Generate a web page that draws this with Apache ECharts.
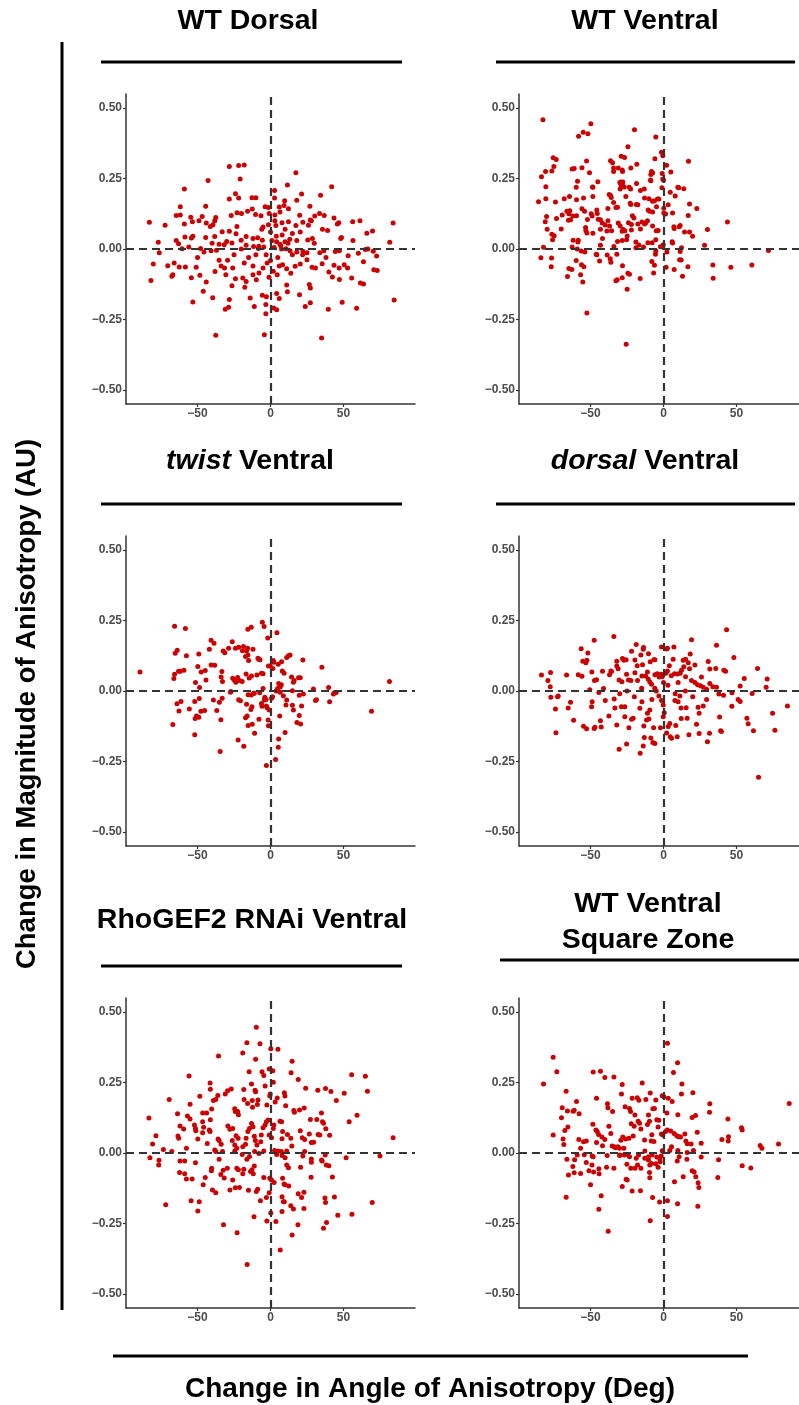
<!DOCTYPE html>
<html>
<head>
<meta charset="utf-8">
<script src="https://cdn.jsdelivr.net/npm/echarts@6/dist/echarts.min.js"></script>
<style>
  html, body { margin: 0; padding: 0; background: #fff; }
  #main { width: 799px; height: 1405px; }
</style>
</head>
<body>
<div id="main"></div>
<script>
// tick labels
const xTicks = [-50, 0, 50];
const yTicks = [-0.5, -0.25, 0, 0.25, 0.5];

// change in angle (deg), change in magnitude (AU)
const wtDorsal = [
  [-21.8,0.296],[-28.2,0.293],[-18,0.298],[-20.8,0.248],[17.4,0.271],[-42.8,0.243],[11.6,0.227],[41.9,0.221],
  [-59,0.213],[2.8,0.208],[-24,0.196],[21.3,0.195],[34.3,0.191],[-28.2,0.177],[-21.8,0.181],[-12.7,0.182],
  [-10,0.182],[2.8,0.181],[9.7,0.171],[18,0.173],[-44.4,0.152],[-61.8,0.150],[27,0.152],[-3.7,0.150],
  [-1.4,0.147],[6,0.149],[9.3,0.154],[12.3,0.143],[-12.5,0.142],[-26.9,0.119],[-22.9,0.129],[-19.9,0.126],
  [-15.7,0.134],[-10.2,0.122],[-6.5,0.118],[-0.9,0.126],[3,0.121],[6.5,0.131],[-64.6,0.119],[-61.8,0.121],
  [-54.6,0.113],[-46.8,0.115],[33.6,0.126],[30.3,0.117],[27.3,0.103],[43.5,0.110],[36.8,0.119],[-37.5,0.112],
  [-38.2,0.100],[-49,0.100],[-53.5,0.097],[-44,0.092],[-83,0.095],[-72.2,0.084],[-59,0.089],[-41.2,0.080],
  [-39.4,0.086],[46.8,0.093],[45.8,0.089],[56.3,0.097],[61.3,0.100],[84,0.092],[17.4,0.083],[22.2,0.095],
  [26,0.084],[28,0.100],[7.9,0.093],[12.3,0.097],[-5.1,0.078],[-1.4,0.086],[3.7,0.083],[35.6,0.070],
  [39.1,0.066],[20.4,0.060],[69.9,0.064],[66,0.056],[-33.1,0.061],[-28.2,0.063],[-23.6,0.054],[-44.4,0.041],
  [-38.2,0.044],[-53.2,0.045],[-54.2,0.039],[-58.6,0.043],[-64.6,0.030],[-76.9,0.024],[-76.2,-0.013],[81.7,0.024],
  [48.1,0.037],[48.6,0.041],[56.5,0.030],[28.7,0.037],[25.5,0.032],[13.2,0.035],[10,0.026],[4.2,0.026],
  [6.5,0.017],[-12,0.037],[-8.8,0.040],[-5.6,0.031],[-20.1,0.031],[-16.7,0.044],[-30,0.027],[-26.4,0.021],
  [-35.2,0.017],[-31.7,0.015],[-63,0.019],[-60.6,0.001],[-56,0.007],[-47.9,0.002],[-45.6,-0.011],[-40.7,-0.006],
  [-37,-0.004],[-16.7,0.013],[-11.6,0.009],[-8.3,0.002],[-4.6,0.007],[2.5,0.005],[7.6,0],[10.6,0.001],
  [13.4,-0.006],[18,-0.011],[22.2,-0.008],[25,-0.013],[33.8,-0.013],[36.6,-0.006],[44.4,-0.009],[47.2,-0.006],
  [60.2,-0.015],[65,-0.002],[66.7,0],[70.4,-0.008],[72.7,-0.025],[53.2,-0.024],[-80.3,-0.053],[-81.9,-0.112],
  [-70.4,-0.059],[-66,-0.050],[-62.5,-0.064],[-66.9,-0.091],[-67.6,-0.097],[-58.3,-0.064],[-54.2,-0.102],[-50.9,-0.065],
  [-48.4,-0.093],[-44,-0.117],[-38,-0.080],[-35.2,-0.040],[-33.8,-0.060],[-29.4,-0.040],[-31.5,-0.067],[-30.6,-0.091],
  [-25.9,-0.067],[-24,-0.106],[-26.4,-0.130],[-19,-0.103],[-16.7,-0.115],[-17.6,-0.136],[-12,-0.091],[-9.7,-0.109],
  [-7.9,-0.085],[-5.1,-0.067],[-2.3,-0.050],[0,-0.041],[1.9,-0.079],[4.6,-0.091],[8.3,-0.056],[11.1,-0.070],
  [13.9,-0.086],[16.9,-0.061],[20.4,-0.053],[25,-0.038],[28.5,-0.065],[30.8,-0.067],[35.4,-0.052],[40,-0.082],
  [43.5,-0.058],[47,-0.067],[50.5,-0.056],[52.8,-0.067],[55.6,-0.103],[61.6,-0.121],[63.7,-0.124],[70.8,-0.074],
  [73.1,-0.076],[63.7,-0.045],[42.4,-0.099],[47.2,-0.108],[26.6,-0.126],[27.3,-0.138],[11.1,-0.128],[11.6,-0.152],
  [19.9,-0.162],[4.2,-0.158],[6,-0.176],[-5.6,-0.164],[-2.8,-0.169],[-3.2,-0.197],[-13.9,-0.174],[-11.1,-0.204],
  [-28.2,-0.179],[-28.7,-0.207],[-31,-0.214],[-39.6,-0.173],[-46.1,-0.150],[-53.2,-0.188],[23.8,-0.204],[27.3,-0.191],
  [39.6,-0.214],[49.1,-0.189],[59,-0.210],[84.7,-0.181],[2.1,-0.209],[4.2,-0.216],[-3.2,-0.230],[-37.5,-0.306],
  [-4.2,-0.304],[35,-0.316],[-8,0.010],[-3,-0.020],[5,-0.030],[8,0.050],[12,0.020],[15,-0.020],
  [-15,-0.030],[-20,0.000],[0,0.060],[3,0.100],[-6,0.070],[10,0.070],[18,0.030],[22,-0.020],
  [-25,-0.020],[-12,-0.060],[-18,-0.050],[6,-0.060],[-1,-0.100],[1,0.030],[4,0.045],[7,0.012],
  [-10,-0.020],[15,0.055],[-23,0.080],[30,0.020],[38,-0.030],[-40,0.020],[-50,-0.030],[20,0.120]
];

const wtVentral = [
  [-82.6,0.459],[-49.8,0.444],[-55,0.414],[-51.8,0.409],[-58.2,0.400],[-19.9,0.423],[-5.3,0.397],[-24.4,0.363],
  [-1.4,0.343],[-0.5,0.331],[-75.6,0.324],[-73.5,0.318],[-29,0.329],[-26.7,0.325],[-5.9,0.320],[-52.7,0.312],
  [-36.3,0.313],[-34.9,0.306],[-18.3,0.301],[2.1,0.297],[17.1,0.311],[-75.1,0.293],[-76.5,0.277],[-80.8,0.275],
  [-62.6,0.284],[-61.2,0.286],[-55.9,0.288],[-50.7,0.271],[-34.2,0.287],[-34.2,0.275],[-31,0.287],[-28.3,0.280],
  [-28.1,0.275],[-22.4,0.287],[-8.2,0.275],[-7.5,0.270],[-8.7,0.264],[-0.9,0.268],[5,0.273],[-83.6,0.256],
  [-58.9,0.240],[-45,0.239],[-29.9,0.236],[-29.2,0.238],[-27.9,0.238],[-29.2,0.227],[-18.5,0.232],[-8.7,0.242],
  [-8.9,0.245],[-0.5,0.248],[0,0.244],[-80.6,0.221],[-59.8,0.219],[-48.4,0.219],[-48.6,0.220],[-28.1,0.225],
  [-26.9,0.220],[-23.5,0.219],[-22.6,0.213],[-29.7,0.213],[-15.8,0.208],[-13.2,0.213],[-1.1,0.217],[9.8,0.219],
  [10.5,0.217],[13.9,0.214],[-85.6,0.168],[-80.6,0.178],[-68,0.178],[-64.4,0.186],[-59.6,0.175],[-54.8,0.181],
  [-48.4,0.186],[-37.2,0.193],[-36.3,0.190],[-35.8,0.183],[-38.1,0.144],[-34.2,0.165],[-32.6,0.147],[-31.5,0.148],
  [-25.8,0.186],[-22.8,0.162],[-22.4,0.158],[-18.7,0.158],[-17.6,0.157],[-13,0.181],[-10,0.178],[-7.5,0.169],
  [-6.2,0.171],[-4.1,0.177],[-3.2,0.177],[-4.8,0.150],[4.6,0.201],[8,0.188],[3.2,0.157],[0.2,0.145],
  [17.8,0.160],[22.8,0.144],[16.9,0.119],[-74,0.167],[-73.3,0.108],[-80.1,0.115],[-81,0.097],[-79.7,0.070],
  [-69.4,0.121],[-66.2,0.134],[-64.8,0.125],[-64.2,0.136],[-63.7,0.104],[-62.1,0.117],[-59.6,0.118],[-65.1,0.102],
  [-70.1,0.071],[-55.9,0.143],[-54.1,0.134],[-49.5,0.125],[-48.9,0.117],[-45.7,0.138],[-45.4,0.126],[-44.7,0.106],
  [-52.1,0.105],[-53.4,0.076],[-53.2,0.066],[-52.5,0.057],[-48.4,0.056],[-43.2,0.104],[-42,0.092],[-40,0.085],
  [-43.2,0.070],[-41.8,0.037],[-38.1,0.100],[-37,0.082],[-38.8,0.064],[-35.6,0.065],[-31,0.092],[-29.7,0.082],
  [-27.6,0.069],[-28.3,0.063],[-26.5,0.065],[-24,0.093],[-22,0.087],[-22,0.067],[-21.3,0.118],[-20.3,0.110],
  [-17.6,0.089],[-15.8,0.071],[-14.8,0.096],[-13,0.089],[-12.1,0.093],[-11,0.100],[-10.5,0.138],[-9.6,0.134],
  [-7.5,0.131],[-7.5,0.082],[-5,0.065],[-3.7,0.066],[0.2,0.128],[1.4,0.124],[6.2,0.128],[7.1,0.079],
  [7.3,0.073],[10.7,0.079],[11.4,0.083],[14.4,0.060],[17.8,0.060],[19.9,0.045],[30.1,0.069],[43.8,0.096],
  [28.1,0.013],[-74.9,0.047],[-76,0.033],[-76.5,0.052],[-82.2,0.006],[-61.9,0.031],[-58.4,0.031],[-58.7,0.025],
  [-62.6,0.007],[-59.1,0],[-56.4,-0.007],[-53.9,-0.011],[-43.2,0.013],[-46.1,-0.019],[-38.6,-0.021],[-31.5,0.027],
  [-34,0.009],[-32,-0.019],[-36.1,-0.047],[-28.3,0.030],[-25.3,0.033],[-24.9,0.046],[-18.9,0.025],[-16.9,0.014],
  [-18.9,0.004],[-13.7,0.007],[-10.7,0.022],[-7.8,0.022],[-5.3,0.033],[-5.3,-0.007],[-2.1,0.008],[-0.2,0.015],
  [2.3,-0.011],[11.4,-0.009],[12.3,0.004],[5.9,0.026],[6.2,0.021],[-84,-0.031],[-76.7,-0.032],[-76.9,-0.063],
  [-59.8,-0.041],[-64.8,-0.069],[-62.8,-0.073],[-65.8,-0.098],[-56.2,-0.056],[-54.6,-0.063],[-56.8,-0.091],[-55.3,-0.117],
  [-45.7,-0.020],[-43.8,-0.043],[-36.5,-0.035],[-32.6,-0.113],[-31.7,-0.109],[-28.1,-0.059],[-28.3,-0.102],[-24.4,-0.086],
  [-23.3,-0.090],[-24.9,-0.143],[-16,-0.105],[-8,-0.044],[-6.8,-0.085],[-5.5,-0.019],[-6.2,-0.058],[1.8,-0.065],
  [7.3,-0.073],[11,-0.038],[12.1,-0.039],[13,-0.097],[16.7,-0.063],[33.8,-0.057],[34,-0.104],[46.1,-0.065],
  [60.5,-0.057],[71.9,-0.005],[-52.5,-0.227],[-25.6,-0.338]
];

const twistVentral = [
  [-89.4,0.067],[-65.7,0.230],[-58.3,0.222],[-65.3,0.134],[-63.9,0.145],[-63,0.070],[-61.8,0.070],[-66.2,0.044],
  [-65.7,0.059],[-59.3,0.074],[-57.6,0.125],[-49.1,0.131],[-41.9,0.148],[-40.7,0.180],[-38.7,0.169],[-40.7,0.092],
  [-38.2,0.091],[-49.8,0.087],[-47.5,0.067],[-44.7,0.073],[-44.2,0.039],[-51.4,0.030],[-48.6,0.012],[-32.4,0.142],
  [-31.3,0.136],[-28.7,0.152],[-26.2,0.175],[-24,0.152],[-21.8,0.155],[-33.3,0.069],[-33.8,0.050],[-32.9,0.034],
  [-19.2,0.143],[-18.5,0.158],[-16.4,0.143],[-15.5,0.219],[-15.7,0.152],[-13.2,0.226],[-12,0.148],[-17.1,0.122],
  [-15.5,0.128],[-15,0.108],[-8.6,0.116],[-7.9,0.112],[-7.2,0.111],[-5.6,0.244],[-4.4,0.229],[-1.9,0.188],
  [4.4,0.207],[-25.9,0.045],[-24.8,0.039],[-23.8,0.031],[-22.5,0.048],[-21.3,0.037],[-19.4,0.034],[-16.7,0.060],
  [-14.6,0.046],[-13,0.053],[-9.3,0.057],[-6.2,0.063],[-5.1,0.061],[-1.4,0.089],[-0.2,0.089],[1.9,0.108],
  [2.3,0.102],[1.6,0.080],[5.3,0.095],[7.6,0.104],[8.1,0.071],[9.3,0.063],[11.1,0.119],[12.3,0.125],
  [13.4,0.128],[14.4,0.050],[16.2,0.037],[19.2,0.047],[20.4,0.047],[22.2,0.110],[35.2,0.084],[29.4,0.007],
  [31.5,-0.031],[30.8,-0.034],[39.8,0.012],[40.5,-0.038],[43.1,-0.011],[43.8,-0.006],[45,-0.005],[81.5,0.034],
  [69.2,-0.072],[-66.9,-0.119],[-64.1,-0.045],[-62.7,-0.071],[-61.3,-0.037],[-55.6,-0.064],[-51.9,-0.037],[-51.6,-0.098],
  [-50.7,-0.089],[-49.1,-0.093],[-51.9,-0.155],[-48.8,-0.027],[-47.7,-0.072],[-45.1,-0.069],[-39.1,-0.032],[-36.8,-0.069],
  [-35,-0.040],[-33.1,-0.026],[-34,-0.102],[-34.5,-0.215],[-27.5,-0.004],[-27.1,-0.002],[-21.8,-0.031],[-20.6,-0.035],
  [-22.2,-0.174],[-18.3,-0.196],[-17.1,-0.095],[-16,-0.089],[-16.4,-0.047],[-15.3,-0.122],[-12.7,-0.056],[-13.4,-0.066],
  [-12.5,-0.118],[-10.9,-0.150],[-11.1,-0.008],[-7.9,-0.100],[-6.2,-0.044],[-5.8,-0.054],[-4.2,-0.032],[-2.8,-0.053],
  [-2.3,-0.059],[-1.6,-0.103],[-1.4,-0.123],[-0.9,-0.067],[0.7,-0.026],[1.4,-0.020],[-2.8,-0.264],[3.5,-0.243],
  [5.3,-0.200],[5.6,-0.170],[6.3,-0.089],[10,-0.147],[8.8,-0.017],[10.6,-0.050],[11.1,-0.032],[15,-0.051],
  [15.7,-0.067],[19.7,-0.087],[20.6,-0.117],[21.3,-0.053],[18.1,-0.112],[3.9,0],[6.5,-0.004],[7.4,0.022],
  [5.6,0.027],[6.7,0.014],[4.9,0.009],[15,0.001],[19.7,-0.015],[22.5,-0.011],[15.7,0.031],[-15.3,-0.013],
  [-13.2,-0.014],[-11.6,-0.008],[-7.4,-0.006],[-5.1,0.009],[-3.9,-0.022],[-3,-0.030]
];

const dorsalVentral = [
  [43.2,0.217],[-34,0.193],[19.2,0.182],[-47.5,0.180],[36.3,0.162],[-56.4,0.150],[-51.8,0.135],[-55.3,0.106],
  [-53.2,0.100],[-52.5,0.109],[-18.7,0.165],[-13.7,0.154],[-13.9,0.148],[-21.9,0.141],[-15.5,0.128],[-10.3,0.132],
  [-6.6,0.111],[-5.9,0.111],[-9.1,0.104],[-1.4,0.156],[2.1,0.149],[2.7,0.152],[7.1,0.156],[-28.1,0.115],
  [-27.2,0.109],[-25.6,0.111],[-32,0.106],[-32,0.089],[-31.1,0.079],[-19.6,0.110],[-14.4,0.093],[6.6,0.113],
  [13.5,0.109],[15.1,0.113],[16.9,0.100],[18.3,0.131],[21.5,0.092],[17.8,0.079],[30.6,0.105],[48.2,0.119],
  [-83.6,0.057],[-77.4,0.066],[-79.2,0.037],[-77.6,0.015],[-77.2,-0.022],[-72.1,-0.018],[-72.6,-0.020],[-66.4,0.057],
  [-58.4,0.058],[-55.9,0.052],[-49.1,0.067],[-47.3,0.037],[-45.9,0.040],[-41.8,0.070],[-35.6,0.069],[-36.1,0.071],
  [-37,0.058],[-41.1,0.009],[-44.3,-0.005],[-50.5,0.004],[-30.4,0.039],[-28.5,0.033],[-25.3,0.059],[-24,0.039],
  [-22.4,0.037],[-19.6,0.065],[-17.8,0.037],[-14.8,0.053],[-12.3,0.053],[-11,0.067],[-10.5,0.043],[-9.4,0.032],
  [-8.2,0.024],[-5.9,0.058],[-4.3,0.061],[-3,0.057],[-1.6,0.059],[-0.9,0.051],[1.6,0.063],[2.7,0.071],
  [5.3,0.054],[7.5,0.061],[9.6,0.060],[11.4,0.063],[12.3,0.074],[13.9,0.086],[15.1,0.051],[19.2,0.037],
  [21.5,0.030],[23.3,0.022],[25.3,0.019],[27.2,0.013],[29.5,0.006],[31.7,0.027],[33.8,0.015],[36.3,0.013],
  [31.7,0.078],[35.8,0.080],[41.3,0.074],[42.5,0.070],[52.5,0.018],[55.3,0.044],[70.3,0.013],[71,0.043],
  [64.4,0.080],[41.1,-0.015],[46.9,-0.006],[51.1,-0.030],[52.5,-0.037],[60.7,-0.009],[46.8,-0.054],[37.9,-0.011],
  [84.9,-0.053],[74.7,-0.079],[76.3,-0.139],[61.6,-0.141],[57.1,-0.097],[58,-0.116],[38.4,-0.092],[39.1,-0.141],
  [39.7,-0.144],[65.1,-0.306],[30.1,-0.180],[31.5,-0.150],[24.4,-0.151],[22.6,-0.118],[24.4,-0.079],[23.7,-0.058],
  [27.2,-0.053],[29.5,-0.030],[17.4,-0.155],[9.4,-0.162],[5.5,-0.168],[4.6,-0.162],[8.4,-0.122],[12.1,-0.098],
  [15.5,-0.059],[16.2,-0.097],[10,-0.038],[11.2,-0.018],[7.8,-0.034],[2.1,-0.149],[3.2,-0.126],[4.3,-0.115],
  [0.5,-0.077],[-0.2,-0.091],[-2.1,-0.130],[-0.2,-0.050],[-1.4,-0.034],[-3.2,-0.018],[-7.3,-0.183],[-5.9,-0.186],
  [-8.7,-0.167],[-13.2,-0.165],[-13.9,-0.195],[-16,-0.221],[-6.8,-0.130],[-11,-0.079],[-9.4,-0.067],[-11.6,-0.103],
  [-10,-0.099],[-13.5,-0.124],[-16.2,-0.061],[-14.8,-0.038],[-23.7,-0.130],[-25.3,-0.188],[-30.4,-0.207],[-21.9,-0.100],
  [-20.8,-0.097],[-26.5,-0.091],[-26.5,-0.056],[-28.8,-0.056],[-33.3,-0.060],[-32,-0.121],[-33.8,-0.028],[-37.4,-0.089],
  [-39.9,-0.034],[-43.2,-0.106],[-42.7,-0.128],[-48.9,-0.038],[-49.3,-0.056],[-47,-0.129],[-47.5,-0.133],[-52.7,-0.134],
  [-54.8,-0.125],[-61.6,-0.104],[-65.3,-0.060],[-63.7,-0.040],[-73.7,-0.148],[-74,-0.064],[-5,0.000],[3,0.020],
  [8,-0.010],[-15,0.010],[-20,-0.020],[10,0.030],[15,0.000],[-8,-0.030],[0,0.030],[20,-0.020],
  [-25,0.000],[-3,0.050],[-18,0.090],[4,0.090],[-30,-0.010],[26,0.050],[-6,0.010],[12,-0.060]
];

const rhoGEF2Ventral = [
  [-9.7,0.446],[-16.2,0.391],[-7.2,0.388],[5.1,0.368],[0.2,0.370],[-19,0.355],[-35.6,0.344],[-10.2,0.333],
  [14.8,0.326],[-0.9,0.298],[1.6,0.292],[-14.6,0.288],[-5.8,0.288],[-4.6,0.275],[14.1,0.285],[-55.8,0.273],
  [55.6,0.278],[65,0.272],[19,0.261],[-41.4,0.248],[-41.2,0.226],[-26.9,0.227],[-29.4,0.221],[-13,0.245],
  [-10.6,0.223],[-10.2,0.217],[-3.7,0.238],[1.9,0.251],[24.1,0.230],[32.4,0.223],[37.7,0.229],[41.4,0.218],
  [50.5,0.212],[66.4,0.219],[-69.4,0.190],[-48.4,0.201],[-36.1,0.204],[-31,0.209],[-18.3,0.225],[-0.2,0.209],
  [-0.5,0.202],[9.5,0.214],[9.9,0.202],[4.6,0.195],[45.1,0.186],[-39.1,0.186],[-37.5,0.190],[-18.1,0.190],
  [-12.5,0.186],[-8.6,0.188],[-55.1,0.173],[-46.5,0.142],[-40.3,0.156],[-43.8,0.142],[-41.2,0.118],[-24.5,0.157],
  [-22,0.136],[-24.1,0.147],[-22.5,0.147],[-15.7,0.176],[-12.3,0.162],[-9,0.172],[-2.5,0.170],[3.2,0.181],
  [10.4,0.168],[16,0.151],[16.4,0.145],[19.9,0.153],[23.1,0.160],[34.9,0.142],[27.3,0.119],[31.7,0.119],
  [35.6,0.111],[36.3,0.106],[37.9,0.086],[59.3,0.134],[53.9,0.111],[-83.3,0.124],[-78.5,0.061],[-80.8,0.032],
  [-73.4,0.012],[-67.6,0.005],[-82.6,-0.017],[-76.4,-0.026],[-76.6,-0.043],[-71.8,-0.184],[-63.7,0.139],[-62,0.096],
  [-63.4,0.060],[-62.9,0.052],[-59.5,0.085],[-57.6,0.017],[-56.9,0.131],[-55.1,0.121],[-52.1,0.099],[-51.4,0.087],
  [-49.8,0.050],[-51.2,0.079],[-46.5,0.072],[-46.5,0.111],[-45.8,0.091],[-41.9,0.082],[-43.3,0.034],[-41.4,0.076],
  [-35.9,0.050],[-35.2,0.044],[-38.2,0.011],[-37.5,0.005],[-33.8,0.031],[-32.9,0.005],[-29.2,0.096],[-27.8,0.084],
  [-25.9,0.087],[-26.2,0.044],[-23.6,0.061],[-22.2,0.052],[-24.5,0.028],[-23.1,0.017],[-19,0.022],[-17.1,0.031],
  [-16.7,0.052],[-15.5,0.076],[-14.4,0.087],[-13,0.105],[-12,0.093],[-11.1,0.059],[-10.4,0.044],[-9.3,0.028],
  [-6.7,0.040],[-6.3,0.064],[-5.1,0.090],[-3.7,0.099],[-2.8,0.111],[-1.6,0.117],[-0.9,0.064],[0.7,0.054],
  [1.9,0.087],[2.3,0.099],[6.5,0.113],[7.6,0.111],[8.3,0.076],[11.6,0.066],[7.9,0.051],[13.9,0.052],
  [14.6,0.025],[20.4,0.079],[21.8,0.054],[23.4,0.048],[26.6,0.067],[28,0.037],[29.6,0.038],[32.6,0.066],
  [33.8,0.064],[40.5,0.063],[2.8,0.009],[5.1,0.007],[7.4,0.005],[11.1,0.007],[4.2,-0.005],[7.9,-0.009],
  [10,-0.017],[22.2,-0.011],[23.4,0.005],[28,-0.021],[28,-0.033],[35,-0.025],[35.4,-0.028],[37.5,-0.007],
  [40,-0.045],[51.8,-0.017],[75,-0.011],[84,0.054],[-62.3,-0.069],[-62,-0.028],[-58.8,-0.028],[-57.6,-0.092],
  [-58.8,-0.074],[-53.7,-0.092],[-51.4,-0.035],[-46.1,-0.113],[-49.8,-0.206],[-48.8,-0.173],[-54.4,-0.169],[-44.7,-0.087],
  [-40.5,-0.063],[-39.8,-0.131],[-37.5,-0.141],[-40.3,-0.054],[-35.2,-0.022],[-34,-0.076],[-32.4,-0.061],[-31.7,-0.089],
  [-29.6,-0.054],[-27.8,-0.131],[-24.1,-0.123],[-21.3,-0.122],[-25.9,-0.096],[-23.1,-0.054],[-22,-0.059],[-19,-0.074],
  [-18.3,-0.058],[-16.2,-0.022],[-15.1,-0.132],[-13.7,-0.066],[-12.7,-0.059],[-11.8,-0.074],[-11.1,-0.046],[-9.7,-0.137],
  [-8.8,-0.129],[-6.9,-0.169],[-4.6,-0.087],[-2.8,-0.158],[-0.5,-0.090],[0.7,-0.096],[2.5,-0.105],[-0.9,-0.141],
  [8.3,-0.090],[9.3,-0.110],[10,-0.113],[12.5,-0.117],[7.9,-0.155],[8.8,-0.173],[9.5,-0.173],[-11.3,-0.226],
  [0.2,-0.213],[-2.5,-0.241],[3.7,-0.243],[7.9,-0.208],[6.7,-0.344],[-32.2,-0.255],[-22.9,-0.283],[-16,-0.396],
  [13.9,-0.187],[15.7,-0.199],[19,-0.145],[21.3,-0.158],[22.9,-0.139],[22.9,-0.197],[18.8,-0.255],[14.8,-0.291],
  [20.6,-0.051],[27.8,-0.086],[38.2,-0.043],[37.3,-0.160],[37.7,-0.176],[42.4,-0.085],[43.8,-0.156],[46.1,-0.221],
  [38.4,-0.247],[36.3,-0.267],[55.8,-0.217],[69.7,-0.176],[12.3,-0.052],[11.1,-0.043],[-24.5,0.007],[-19.4,-0.005],
  [-14.4,-0.012],[-10.9,0.005],[-7.9,-0.002],[-4.6,0.007]
];

const wtVentralSquare = [
  [2.7,0.389],[-75.6,0.340],[9.6,0.320],[-73.1,0.288],[-48.2,0.287],[-43.2,0.290],[-40.2,0.268],[-34,0.270],
  [6.8,0.286],[-82.2,0.245],[-28.3,0.243],[-14.6,0.248],[12.6,0.245],[-66.7,0.219],[-28.8,0.209],[-9.1,0.213],
  [-0.9,0.203],[0.2,0.200],[3.2,0.194],[12.3,0.209],[20.1,0.214],[-59.6,0.183],[-45.9,0.194],[-38.4,0.175],
  [-38.1,0.161],[-34.9,0.147],[-21.5,0.194],[-18,0.196],[-16.9,0.187],[-12.1,0.190],[-5.3,0.188],[5.9,0.183],
  [31.7,0.175],[31.5,0.145],[-69.4,0.161],[-65.8,0.149],[-61.9,0.148],[-61.2,0.152],[-57.8,0.139],[-69.9,0.125],
  [-26.3,0.164],[-23.3,0.158],[-22.6,0.147],[-19.6,0.135],[-10.3,0.135],[-7.3,0.157],[-6.2,0.158],[-4.6,0.118],
  [-3.2,0.116],[2.3,0.142],[9.8,0.136],[19.6,0.126],[21.9,0.133],[44.1,0.121],[53.4,0.090],[53.9,0.082],
  [86.1,0.176],[78.8,0.032],[66.2,0.027],[67.4,0.017],[-75.6,0.064],[-68.8,0.050],[-68.3,0.030],[-67.6,0.080],
  [-65.5,0.092],[-58,0.048],[-56.8,0.017],[-54.8,0.040],[-52.9,0.043],[-48.4,0.102],[-46.3,0.082],[-45.4,0.076],
  [-45.9,0.037],[-44.5,0.066],[-42.2,0.057],[-41.8,0.026],[-40.2,0.048],[-37.4,0.095],[-36.1,0.069],[-35.2,0.025],
  [-33.8,0.022],[-32.9,0.019],[-31.3,0.022],[-30.1,0.017],[-29.2,0.045],[-27.9,0.057],[-27.2,0.017],[-26,0.050],
  [-23.7,0.052],[-22.1,0.104],[-20.8,0.060],[-20.1,0.095],[-17.4,0.113],[-16.4,0.106],[-15.5,0.085],[-13,0.046],
  [-11,0.101],[-9.6,0.113],[-8,0.065],[-8.4,0.043],[-6.6,0.041],[-3.7,0.092],[-1.4,0.067],[-0.5,0.064],
  [1.4,0.076],[2.5,0.082],[5,0.078],[7.3,0.069],[9.1,0.061],[10.3,0.058],[11.6,0.057],[14.6,0.067],
  [15.3,0.043],[16.2,0.033],[18.9,0.032],[23.1,0.074],[25.8,0.035],[40,0.048],[44.5,0.058],[44.3,0.043],
  [4.3,0.009],[5.5,0.022],[-0.9,0.008],[9.8,0.009],[16.2,0.002],[20.5,0.009],[-59.1,-0.007],[-54.3,-0.006],
  [-48.9,-0.011],[-48.2,-0.013],[-38.6,-0.009],[-30.1,-0.009],[-29.9,-0.007],[-26.9,-0.007],[-24.7,-0.005],[-23.3,-0.013],
  [-18.7,-0.019],[-17.1,-0.007],[-12.8,0.007],[-10.3,-0.013],[-7.8,-0.007],[-4.6,-0.014],[-1.6,-0.011],[-66.2,-0.022],
  [-60.9,-0.024],[-62.1,-0.048],[-65.1,-0.078],[-61.2,-0.070],[-56.8,-0.073],[-52.9,-0.034],[-49,-0.043],[-51.1,-0.063],
  [-47.9,-0.067],[-44.3,-0.056],[-44.1,-0.074],[-50,-0.113],[-39,-0.051],[-34,-0.054],[-25.1,-0.040],[-22.4,-0.054],
  [-19.6,-0.054],[-17.8,-0.043],[-15.5,-0.054],[-12.8,-0.019],[-10.3,-0.025],[-9.4,-0.043],[-8.2,-0.037],[-5.3,-0.038],
  [-3.7,-0.051],[-2.5,-0.022],[-2.3,-0.031],[-25.6,-0.093],[-24.9,-0.096],[-28.3,-0.119],[-21.5,-0.135],[-15.8,-0.134],
  [-9.6,-0.069],[-9.4,-0.088],[9.4,-0.028],[10.7,-0.013],[16,-0.022],[7.5,-0.102],[13.5,-0.084],[19.6,-0.063],
  [21,-0.067],[22.1,-0.084],[23.7,-0.106],[24.2,-0.122],[23.5,-0.189],[25.8,-0.014],[37.7,-0.024],[37.2,-0.087],
  [53.9,-0.045],[59.8,-0.053],[-66.7,-0.157],[-42.7,-0.152],[-44.3,-0.200],[-37.9,-0.278],[-9.1,-0.240],[-7.5,-0.158],
  [-2.7,-0.174],[2.7,-0.169],[2.7,-0.225],[9.6,-0.180]
];

const panels = [
  { title: 'WT Dorsal', data: wtDorsal, left: 126, top: 94, width: 289, xMax: 99 },
  { title: 'WT Ventral', data: wtVentral, left: 519, top: 94, width: 280, xMax: 92.8 },
  { title: '{i|twist} Ventral', data: twistVentral, left: 126, top: 536, width: 289, xMax: 99 },
  { title: '{i|dorsal} Ventral', data: dorsalVentral, left: 519, top: 536, width: 280, xMax: 92.8 },
  { title: 'RhoGEF2 RNAi Ventral', data: rhoGEF2Ventral, left: 126, top: 998, width: 289, xMax: 99 },
  { title: 'WT Ventral\nSquare Zone', data: wtVentralSquare, left: 519, top: 998, width: 280, xMax: 92.8 }
];

// title centre x/y and underline for each panel
const headers = [
  { cx: 248, cy: 21, line: [101, 402, 62] },
  { cx: 645, cy: 21, line: [496, 795, 62] },
  { cx: 250, cy: 461, line: [101, 402, 504] },
  { cx: 645, cy: 461, line: [496, 795, 504] },
  { cx: 252, cy: 920, line: [101, 402, 966] },
  { cx: 648, cy: 922, line: [500, 799, 960] }
];

const FONT = '"Liberation Sans", Arial, Helvetica, sans-serif';
const fmtY = v => (v < 0 ? '\u2212' : '') + Math.abs(v).toFixed(2);
const fmtX = v => (v < 0 ? '\u2212' : '') + Math.abs(v);

const myChart = echarts.init(document.getElementById('main'), null, { renderer: 'canvas' });

const grid = [], xAxis = [], yAxis = [], series = [], title = [], graphic = [];

panels.forEach((p, i) => {
  grid.push({ left: p.left, top: p.top, width: p.width, height: 310 });
  xAxis.push({
    type: 'value', gridIndex: i, min: -99, max: p.xMax,
    splitLine: { show: false },
    axisLine: { onZero: false, lineStyle: { color: '#333', width: 1.5 } },
    axisTick: { length: 3, customValues: xTicks, lineStyle: { color: '#333', width: 1.2 } },
    axisLabel: { customValues: xTicks, formatter: fmtX, color: '#4d4d4d', fontWeight: 'bold',
      fontSize: 12, fontFamily: FONT, margin: 4 }
  });
  yAxis.push({
    type: 'value', gridIndex: i, min: -0.55, max: 0.55,
    splitLine: { show: false },
    axisLine: { onZero: false, lineStyle: { color: '#333', width: 1.5 } },
    axisTick: { length: 3, customValues: yTicks, lineStyle: { color: '#333', width: 1.2 } },
    axisLabel: { customValues: yTicks, formatter: fmtY, color: '#4d4d4d', fontWeight: 'bold',
      fontSize: 12, fontFamily: FONT, margin: 4 }
  });
  series.push({
    type: 'scatter', xAxisIndex: i, yAxisIndex: i, data: p.data,
    symbolSize: 5, itemStyle: { color: '#cc0000', opacity: 1 },
    silent: true,
    markLine: {
      silent: true, symbol: 'none', label: { show: false },
      lineStyle: { color: '#333', type: [8, 5], width: 2.2 },
      data: [{ xAxis: 0 }, { yAxis: 0 }]
    }
  });
  const h = headers[i];
  title.push({
    text: p.title, left: h.cx, top: h.cy, textAlign: 'center', textVerticalAlign: 'middle', padding: 0,
    textStyle: { fontFamily: FONT, fontWeight: 'bold', fontSize: 28.5, color: '#000', lineHeight: 36,
      rich: { i: { fontFamily: FONT, fontWeight: 'bold', fontStyle: 'italic', fontSize: 28.5, color: '#000' } } }
  });
  graphic.push({ type: 'line', shape: { x1: h.line[0], y1: h.line[2], x2: h.line[1], y2: h.line[2] },
    style: { stroke: '#000', lineWidth: 3 } });
});

// shared axis titles and their rules
graphic.push({ type: 'line', shape: { x1: 62, y1: 42, x2: 62, y2: 1310 }, style: { stroke: '#000', lineWidth: 3 } });
graphic.push({ type: 'line', shape: { x1: 113, y1: 1356, x2: 748, y2: 1356 }, style: { stroke: '#000', lineWidth: 3 } });
graphic.push({
  type: 'text', x: 27, y: 704, rotation: Math.PI / 2,
  style: { text: 'Change in Magnitude of Anisotropy (AU)', fill: '#000', font: 'bold 27.5px ' + FONT,
    align: 'center', verticalAlign: 'middle' }
});
graphic.push({
  type: 'text', x: 430, y: 1389,
  style: { text: 'Change in Angle of Anisotropy (Deg)', fill: '#000', font: 'bold 28px ' + FONT,
    align: 'center', verticalAlign: 'middle' }
});

myChart.setOption({
  backgroundColor: '#fff',
  animation: false,
  title, grid, xAxis, yAxis, series, graphic
});
</script>
</body>
</html>
